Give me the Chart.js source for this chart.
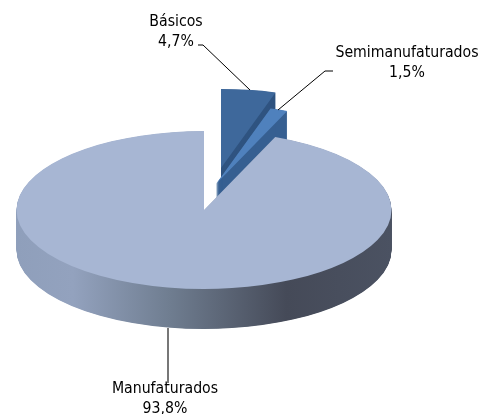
<!DOCTYPE html>
<html>
<head>
<meta charset="utf-8">
<style>
   html, body { margin: 0; padding: 0; background: #fff; overflow: hidden; }
   canvas { display: block; }
</style>
<script src="https://cdn.jsdelivr.net/npm/chart.js@4"></script>
</head>
<body>
<canvas id="myChart" width="481" height="414"></canvas>
<script>
const categories = ["Básicos", "Semimanufaturados", "Manufaturados"];
const shares = [4.7, 1.5, 93.8];

const topColors = ["#3E689B", "#4F81BD", "#A7B6D3"];
const sideColors = ["#2F5380", "#365F91", null];

// how far each slice is pulled out of the pie, in screen px
const sliceShift = [[17, -42], [12, -26], [0, 0]];

const squash = 79 / 187.5;
const depth = 40;

const labelBoxes = [
   { x: 176, y: 26 },
   { x: 407, y: 57 },
   { x: 165, y: 393 },
];
const leaders = [
   { color: "#000", width: 1, path: [[198, 45], [203, 45], [250, 90]] },
   { color: "#000", width: 1, path: [[333, 71], [325, 71], [278, 110]] },
   { color: "#777", width: 2, path: [[168, 328], [168, 383]] },
];

const pie3d = {
   id: "pie3d",
   beforeDatasetsDraw(chart) {
      const ctx = chart.ctx;
      const arcs = chart.getDatasetMeta(0).data;
      arcs.forEach((arc, i) => {
         const [dx, dy] = sliceShift[i];
         const base = arc.options;
         let side = sideColors[i];
         if (!side) {
            const r = arc.outerRadius;
            side = ctx.createLinearGradient(arc.x - r, 0, arc.x + r, 0);
            side.addColorStop(0, "#8F9FBB");
            side.addColorStop(0.15, "#93A2BE");
            side.addColorStop(0.41, "#6F7D90");
            side.addColorStop(0.72, "#454A58");
            side.addColorStop(1, "#4B5262");
         }
         // side wall first, then the top face over it
         for (let d = depth; d >= 0; d -= 0.5) {
            ctx.save();
            ctx.translate(dx, arc.y + dy + d);
            ctx.scale(1, squash);
            ctx.translate(0, -arc.y);
            arc.options = d === 0 ? base : Object.assign({}, base, { backgroundColor: side });
            arc.draw(ctx);
            ctx.restore();
         }
         arc.options = base;
      });
      return false;
   },
   afterDraw(chart) {
      const ctx = chart.ctx;
      ctx.save();
      leaders.forEach((l) => {
         ctx.strokeStyle = l.color;
         ctx.lineWidth = l.width;
         ctx.beginPath();
         l.path.forEach(([x, y], i) => (i ? ctx.lineTo(x, y) : ctx.moveTo(x, y)));
         ctx.stroke();
      });
      ctx.fillStyle = "#000";
      ctx.font = "15.7px 'DejaVu Sans Condensed', 'DejaVu Sans'";
      ctx.textAlign = "center";
      ctx.textBaseline = "alphabetic";
      categories.forEach((name, i) => {
         const box = labelBoxes[i];
         ctx.fillText(name, box.x, box.y);
         ctx.fillText(shares[i].toFixed(1).replace(".", ",") + "%", box.x, box.y + 20);
      });
      ctx.restore();
   },
};

new Chart(document.getElementById("myChart").getContext("2d"), {
   type: "pie",
   data: {
      labels: categories,
      datasets: [
         {
            data: shares,
            backgroundColor: topColors,
            borderWidth: 0,
            radius: 187.5,
         },
      ],
   },
   options: {
      responsive: false,
      animation: false,
      layout: { padding: { right: 73, top: 6 } },
      plugins: { legend: { display: false }, tooltip: { enabled: false } },
   },
   plugins: [pie3d],
});
</script>
</body>
</html>
